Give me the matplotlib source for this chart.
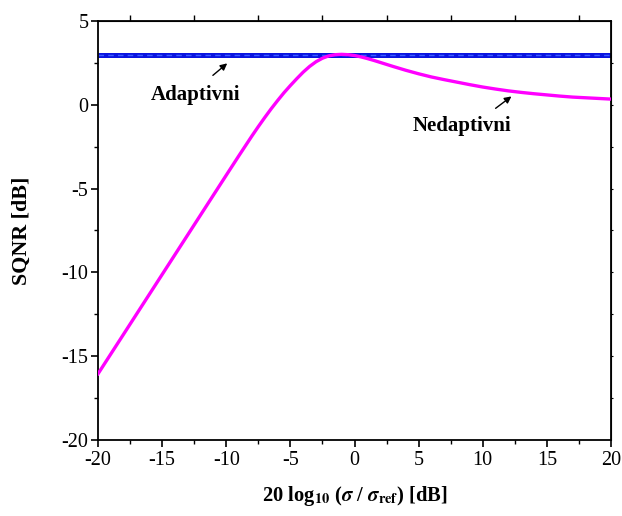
import numpy as np
import matplotlib
matplotlib.use('Agg')
import matplotlib.pyplot as plt
from matplotlib.ticker import MultipleLocator

plt.rcParams['font.family'] = ['Liberation Serif', 'DejaVu Serif']
plt.rcParams['mathtext.fontset'] = 'stix'
plt.rcParams['axes.unicode_minus'] = False

# adaptive quantizer - flat SQNR
adapt_x = [-20, 20]
adapt_y = [3.0, 3.0]

# non-adaptive quantizer
nonadapt_x = [-20, -18, -16, -14, -12, -10, -9, -8, -7.5, -7, -6.5, -6, -5.5, -5, -4.5,
              -4, -3.5, -3, -2.5, -2, -1.5, -1, -0.5, 0, 0.5, 1, 1.5, 2, 2.5, 3, 4, 5,
              6, 7, 8, 9, 10, 11, 12, 13, 14, 15, 16, 17, 18, 19, 20]
nonadapt_y = [-16.05, -13.68, -11.31, -8.94, -6.57, -4.2, -3.02, -1.86, -1.3, -0.76, -0.24,
              0.25, 0.72, 1.15, 1.56, 1.95, 2.29, 2.57, 2.78, 2.92, 2.99, 3.01, 2.99,
              2.94, 2.86, 2.76, 2.65, 2.53, 2.41, 2.29, 2.06, 1.85, 1.66, 1.5, 1.35,
              1.2, 1.06, 0.94, 0.83, 0.74, 0.66, 0.59, 0.52, 0.46, 0.42, 0.38, 0.34]

fig = plt.figure(figsize=(6.22, 5.16), dpi=100)
ax = fig.add_axes([0.1576, 0.1473, 0.8247, 0.812])

ax.plot(adapt_x, adapt_y, color='#0a14e0', lw=3.6, solid_capstyle='butt', zorder=2)
ax.plot(adapt_x, adapt_y, color='#3a5cff', lw=1.0, ls=(0, (4, 3)), zorder=2)
ax.plot(nonadapt_x, nonadapt_y, color='#ff00ff', lw=2.4, zorder=3)

ax.set_xlim(-20, 20)
ax.set_ylim(-20, 5)
ax.xaxis.set_major_locator(MultipleLocator(5))
ax.xaxis.set_minor_locator(MultipleLocator(2.5))
ax.yaxis.set_major_locator(MultipleLocator(5))
ax.yaxis.set_minor_locator(MultipleLocator(2.5))
ax.tick_params(which='major', direction='out', length=5, width=1.2, labelsize=14.5, pad=2)
ax.tick_params(axis='x', which='major', pad=3)
ax.tick_params(which='minor', direction='out', length=3, width=1.0)
for s in ax.spines.values():
    s.set_linewidth(1.3)

top = ax.secondary_xaxis('top')
top.set_xticks(np.arange(-17.5, 20, 5))
top.tick_params(direction='out', length=4, width=1.0, labeltop=False)
top.xaxis.set_minor_locator(plt.NullLocator())
right = ax.secondary_yaxis('right')
right.set_yticks(np.arange(-17.5, 5, 2.5))
right.tick_params(direction='out', length=1.5, width=0.8, labelright=False)
right.yaxis.set_minor_locator(plt.NullLocator())

ax.set_xlabel(r'20 log$_{\mathbf{10}}$ ($\boldsymbol{\sigma}$ / $\boldsymbol{\sigma}_{\mathbf{ref}}$) [dB]',
              fontsize=14.8, fontweight='bold')
ax.set_ylabel('SQNR [dB]', fontsize=15.8, fontweight='bold')
ax.xaxis.set_label_coords(0.5, -0.105)
ax.yaxis.set_label_coords(-0.129, 0.5)

ax.annotate('', xy=(-9.76, 2.58), xytext=(-11.21, 1.65),
            arrowprops=dict(arrowstyle='-|>', color='black', lw=1.0, mutation_scale=10))
ax.text(-12.36, 0.61, 'Adaptivni', fontsize=15, fontweight='bold', ha='center', va='center')
ax.annotate('', xy=(12.41, 0.60), xytext=(10.83, -0.31),
            arrowprops=dict(arrowstyle='-|>', color='black', lw=1.0, mutation_scale=10))
ax.text(8.38, -1.24, 'Nedaptivni', fontsize=15, fontweight='bold', ha='center', va='center')

fig.savefig('out.png', dpi=100)
